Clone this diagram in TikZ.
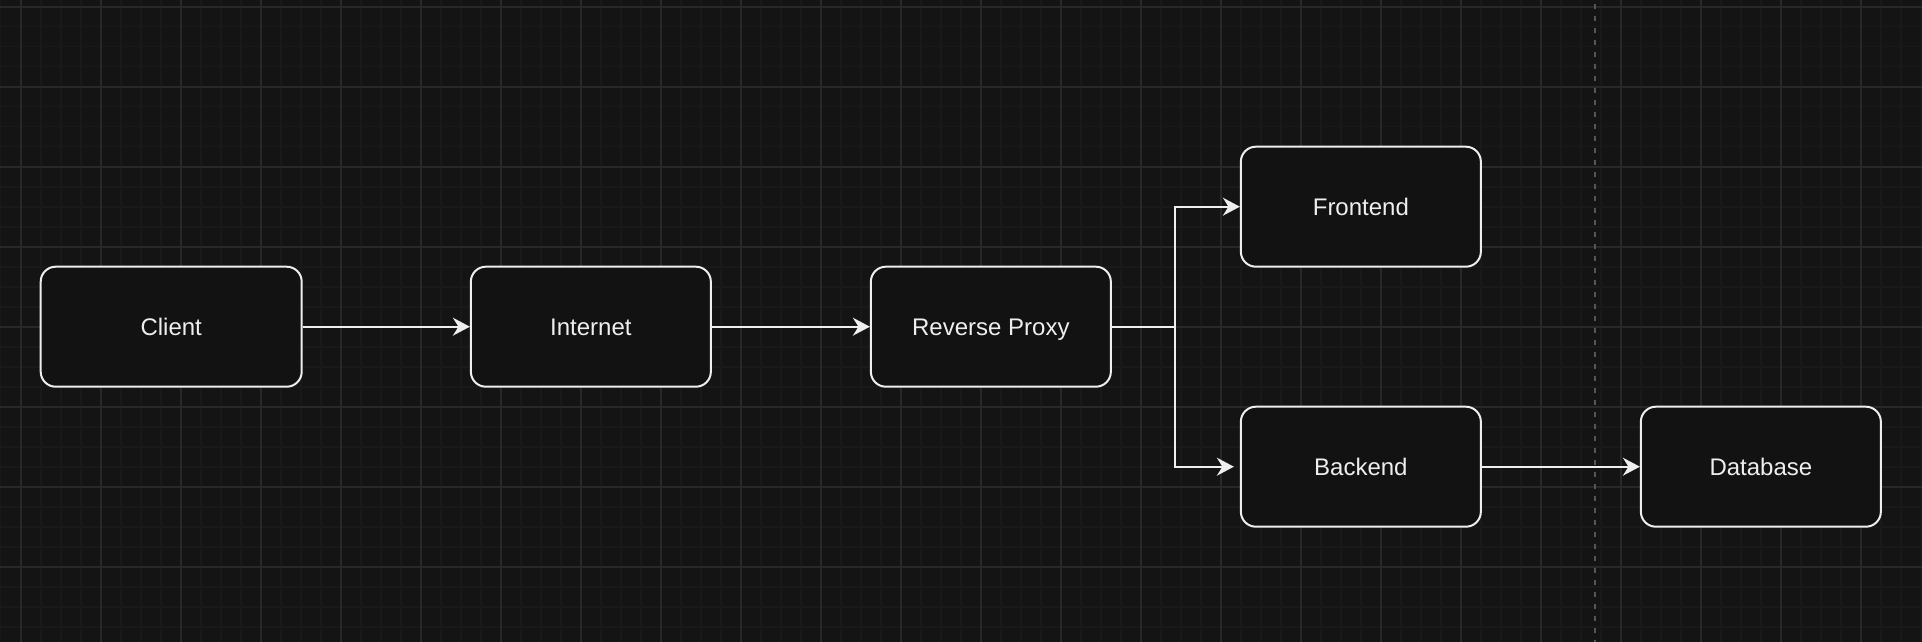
\documentclass[tikz,border=0pt]{standalone}
\usepackage{fontspec}
\setmainfont{Liberation Sans}
\usetikzlibrary{arrows.meta}
\definecolor{bgc}{HTML}{141414}
\definecolor{minorc}{HTML}{191919}
\definecolor{majorc}{HTML}{282828}
\definecolor{boxfill}{HTML}{121212}
\definecolor{strokec}{HTML}{EEEEEE}
\definecolor{dashc}{HTML}{555555}
\tikzset{
  box/.style={draw=strokec, fill=boxfill, line width=1pt, rounded corners=7.5pt,
    minimum height=60pt, text=strokec, inner sep=0pt,
    text height=8.6pt, text depth=0pt,
    font=\fontsize{12pt}{14pt}\selectfont},
  conn/.style={draw=strokec, line width=1pt,
    -{Stealth[length=8.5pt, width=9pt, inset=2.8pt]}},
  plainconn/.style={draw=strokec, line width=1pt},
}
\begin{document}
\begin{tikzpicture}[x=0.5pt, y=-0.5pt]
\useasboundingbox (0,0) rectangle (1922,642);
\fill[bgc] (0,0) rectangle (1922,642);
% minor grid
\foreach \gx in {0,...,96} {
  \draw[minorc, line width=0.8pt] ({0.7+20*\gx},0) -- ({0.7+20*\gx},642);
}
\foreach \gy in {0,...,32} {
  \draw[minorc, line width=0.8pt] (0,{6.7+20*\gy}) -- (1922,{6.7+20*\gy});
}
% major grid
\foreach \gx in {0,...,24} {
  \draw[majorc, line width=1pt] ({20.7+80*\gx},0) -- ({20.7+80*\gx},642);
}
\foreach \gy in {0,...,8} {
  \draw[majorc, line width=1pt] (0,{6.7+80*\gy}) -- (1922,{6.7+80*\gy});
}
% dashed separator
\draw[dashc, line width=1pt, dash pattern=on 2.5pt off 3.5pt] (1595,4) -- (1595,642);
% nodes
\node[box, minimum width=130.5pt] (client) at (171.2,326.7) {Client};
\node[box, minimum width=120pt] (internet) at (590.85,326.7) {Internet};
\node[box, minimum width=120pt] (proxy) at (990.85,326.7) {Reverse Proxy};
\node[box, minimum width=120pt] (frontend) at (1360.85,206.7) {Frontend};
\node[box, minimum width=120pt] (backend) at (1360.85,466.7) {Backend};
\node[box, minimum width=120pt] (database) at (1760.85,466.7) {Database};
\coordinate (split) at (1175,326.7);
% connectors
\draw[conn] (client) -- (internet);
\draw[conn] (internet) -- (proxy);
\draw[plainconn] (proxy.east) -- (split);
\draw[conn] (split) |- (frontend.west);
\draw[conn, shorten >=3pt] (split) |- (backend.west);
\draw[conn] (backend) -- (database);
\end{tikzpicture}
\end{document}
